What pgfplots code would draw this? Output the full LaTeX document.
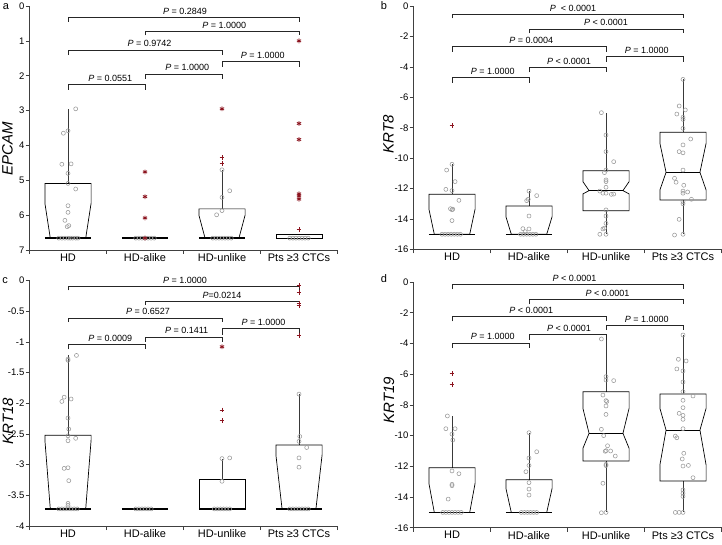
\documentclass[border=0pt]{standalone}
\usepackage{fontspec}
\setmainfont{Liberation Sans}
\usepackage{pgfplots}
\pgfplotsset{compat=1.18}
\definecolor{axc}{gray}{0.25}
\definecolor{ptc}{gray}{0.6}
\definecolor{outc}{rgb}{0.55,0.08,0.12}
\pgfplotsset{
 panel/.style={scale only axis, width=308pt, xmin=-0.5, xmax=3.5,
  axis x line*=bottom, axis y line*=left, clip=false,
  xtick={-0.5,0.5,1.5,2.5,3.5}, xticklabels={,,,,},
  extra x ticks={0,1,2,3}, extra x tick labels={HD,HD-alike,HD-unlike,Pts ≥3 CTCs},
  extra x tick style={major tick length=0pt},
  tick align=outside, major tick length=4pt,
  axis line style={axc, line width=0.7pt}, tick style={axc, line width=0.7pt},
  /pgf/number format/assume math mode=true,
  yticklabel style={font=\fontsize{9.5}{11}\selectfont, text=black, inner sep=1pt},
  xticklabel style={font=\fontsize{11}{13}\selectfont, text=black},
 },
 wh/.style={gray!45!black, line width=1pt},
 bx/.style={black, line width=0.7pt},
 bl/.style={black, line width=1.3pt},
 pts/.style={only marks, mark=o, mark size=2pt, ptc, line width=0.55pt},
 op/.style={only marks, mark=+, mark size=2.4pt, outc, line width=0.85pt},
 oa/.style={only marks, mark=asterisk, mark size=2.4pt, outc, line width=0.85pt},
 br/.style={black!85, line width=0.7pt},
}
\tikzset{ptxt/.style={anchor=base, yshift=3pt, font=\fontsize{9}{10}\selectfont, inner sep=0pt}}
\begin{document}
\begin{tikzpicture}
\useasboundingbox (0,0) rectangle (722pt,545pt);
% ---------------- panel a
\begin{axis}[panel, at={(29.5pt,295pt)}, anchor=south west, height=244pt, ymin=0, ymax=7, y dir=reverse, ytick={0,1,2,3,4,5,6,7}]
\addplot[wh] coordinates {(0,5.09)(0,2.95)};
\addplot[wh] coordinates {(2,5.82)(2,4.70)};
\addplot[bx] coordinates {(-0.3,5.09)(0.3,5.09)(0.3,5.66)(0.23,6.66)(-0.23,6.66)(-0.3,5.66)} -- cycle;
\addplot[bl] coordinates {(-0.3,6.66)(0.3,6.66)};
\addplot[bl] coordinates {(0.7,6.66)(1.3,6.66)};
\addplot[bx] coordinates {(1.7,5.82)(2.3,5.82)(2.3,6.0)(2.22,6.66)(1.78,6.66)(1.7,6.0)} -- cycle;
\addplot[bl] coordinates {(1.7,6.66)(2.3,6.66)};
\addplot[bx] coordinates {(2.7,6.56)(3.3,6.56)(3.3,6.67)(2.7,6.67)} -- cycle;
\addplot[pts] coordinates {(0.10,2.95)(0,3.58)(-0.06,3.65)(-0.08,4.54)(0.04,4.53)(0,4.80)(0,5.09)(0.10,5.25)(0,5.73)(0,5.92)(-0.04,6.15)(0.01,6.30)(-0.01,6.33)(-0.12,6.66)(-0.08,6.66)(-0.04,6.66)(0,6.66)(0.03,6.66)(0.06,6.66)(0.1,6.66)(0.13,6.66)
(0.88,6.66)(0.92,6.66)(0.96,6.66)(1.0,6.66)(1.04,6.66)(1.08,6.66)(1.12,6.66)
(2,4.70)(2.10,5.30)(2,5.49)(2,5.87)(1.93,5.99)(1.88,6.66)(1.92,6.66)(1.96,6.66)(2,6.66)(2.04,6.66)(2.08,6.66)(2.12,6.66)
(2.88,6.66)(2.92,6.66)(2.96,6.66)(3,6.66)(3.04,6.66)(3.08,6.66)(3.12,6.66)};
\addplot[oa] coordinates {(1,4.76)(1,5.47)(1,6.08)(1,6.66)(2,2.95)(3,1.0)(3,3.37)(3,3.83)(3,5.39)(3,5.45)(3,5.54)};
\addplot[op] coordinates {(2,4.35)(2,4.51)(3,6.41)};
\addplot[br] coordinates {(0,0.45)(0,0.325)(3,0.325)(3,0.45)};
\addplot[br] coordinates {(1,0.84)(1,0.72)(3,0.72)(3,0.84)};
\addplot[br] coordinates {(0,1.41)(0,1.26)(2,1.26)(2,1.41)};
\addplot[br] coordinates {(2,1.74)(2,1.6)(3,1.6)(3,1.74)};
\addplot[br] coordinates {(1,2.08)(1,1.95)(2,1.95)(2,2.08)};
\addplot[br] coordinates {(0,2.4)(0,2.24)(1,2.24)(1,2.4)};
\node[ptxt] at (axis cs:1.52,0.325) {\textit{P} = 0.2849};
\node[ptxt] at (axis cs:2.03,0.72) {\textit{P} = 1.0000};
\node[ptxt] at (axis cs:1.06,1.26) {\textit{P} = 0.9742};
\node[ptxt] at (axis cs:2.53,1.6) {\textit{P} = 1.0000};
\node[ptxt] at (axis cs:1.55,1.95) {\textit{P} = 1.0000};
\node[ptxt] at (axis cs:0.55,2.24) {\textit{P} = 0.0551};
\end{axis}
% ---------------- panel b
\begin{axis}[panel, at={(413.5pt,295.5pt)}, anchor=south west, height=243.5pt, ymin=-16, ymax=0, ytick={-16,-14,-12,-10,-8,-6,-4,-2,0}]
\addplot[wh] coordinates {(0,-12.37)(0,-10.40)};
\addplot[wh] coordinates {(1,-13.14)(1,-12.16)};
\addplot[wh] coordinates {(2,-10.82)(2,-7.0)};
\addplot[wh] coordinates {(2,-13.45)(2,-15)};
\addplot[wh] coordinates {(3,-8.3)(3,-4.82)};
\addplot[wh] coordinates {(3,-12.75)(3,-15)};
\addplot[bx] coordinates {(-0.3,-12.37)(0.3,-12.37)(0.3,-13.34)(0.23,-15)(-0.23,-15)(-0.3,-13.34)} -- cycle;
\addplot[bl] coordinates {(-0.3,-15)(0.3,-15)};
\addplot[bx] coordinates {(0.7,-13.14)(1.3,-13.14)(1.3,-13.84)(1.23,-15)(0.77,-15)(0.7,-13.84)} -- cycle;
\addplot[bl] coordinates {(0.7,-15)(1.3,-15)};
\addplot[bx] coordinates {(1.7,-10.82)(2.3,-10.82)(2.3,-11.54)(2.22,-12.13)(2.3,-12.35)(2.3,-13.45)(1.7,-13.45)(1.7,-12.35)(1.78,-12.13)(1.7,-11.54)} -- cycle;
\addplot[bx] coordinates {(1.78,-12.13)(2.22,-12.13)};
\addplot[bx] coordinates {(2.7,-8.3)(3.3,-8.3)(3.3,-9.02)(3.22,-10.93)(3.3,-12.09)(3.3,-12.75)(2.7,-12.75)(2.7,-12.09)(2.78,-10.93)(2.7,-9.02)} -- cycle;
\addplot[bx] coordinates {(2.78,-10.93)(3.22,-10.93)};
\addplot[pts] coordinates {(0,-10.40)(-0.07,-10.78)(0.04,-11.54)(-0.08,-12.05)(0,-12.13)(0.09,-12.77)(-0.02,-13.32)(0.01,-13.35)(0,-13.39)(0,-14.1)(-0.13,-15)(-0.09,-15)(-0.05,-15)(-0.01,-15)(0.03,-15)(0.07,-15)(0.11,-15)
(1,-12.16)(1.1,-12.46)(0.97,-12.79)(0.99,-12.7)(1,-13.8)(0.92,-14.63)(1,-14.65)(0.95,-14.83)(0.89,-15)(0.93,-15)(0.97,-15)(1.01,-15)(1.05,-15)(1.09,-15)
(1.94,-7.01)(2,-8.48)(2,-9.57)(2.1,-10.23)(2,-10.78)(1.98,-10.95)(2,-11.43)(2,-11.54)(2,-11.91)(1.92,-12.16)(1.96,-12.3)(2,-12.3)(2.07,-12.38)(2.1,-12.36)(2,-13.4)(2,-13.8)(2,-14.28)(1.98,-14.6)(1.96,-14.65)(1.92,-15.0)(2,-15.0)
(3,-4.82)(2.95,-6.57)(3.03,-6.83)(2.92,-7.1)(3,-7.31)(3,-7.45)(3,-8.04)(3.1,-8.74)(3,-9.13)(2.95,-9.57)(3,-9.65)(3,-10.78)(2.89,-11.32)(2.91,-11.58)(3.01,-11.78)(3,-12.16)(3.06,-12.22)(3,-12.3)(3.11,-12.7)(3,-12.86)(3,-13.0)(2.95,-14.02)(2.89,-15.05)(3,-15.0)};
\addplot[op] coordinates {(0,-7.86)};
\addplot[br] coordinates {(0,-0.81)(0,-0.53)(3,-0.53)(3,-0.81)};
\addplot[br] coordinates {(1,-1.8)(1,-1.51)(3,-1.51)(3,-1.8)};
\addplot[br] coordinates {(0,-3.0)(0,-2.67)(2,-2.67)(2,-3.0)};
\addplot[br] coordinates {(2,-3.66)(2,-3.33)(3,-3.33)(3,-3.66)};
\addplot[br] coordinates {(1,-4.36)(1,-4.03)(2,-4.03)(2,-4.36)};
\addplot[br] coordinates {(0,-5.04)(0,-4.71)(1,-4.71)(1,-5.04)};
\node[ptxt] at (axis cs:1.57,-0.53) {\textit{P}\ \ {<} 0.0001};
\node[ptxt] at (axis cs:2.0,-1.51) {\textit{P} {<} 0.0001};
\node[ptxt] at (axis cs:1.03,-2.67) {\textit{P} = 0.0004};
\node[ptxt] at (axis cs:2.53,-3.33) {\textit{P} = 1.0000};
\node[ptxt] at (axis cs:1.52,-4.03) {\textit{P} {<} 0.0001};
\node[ptxt] at (axis cs:0.53,-4.71) {\textit{P} = 1.0000};
\end{axis}
% ---------------- panel c
\begin{axis}[panel, at={(29.5pt,18.9pt)}, anchor=south west, height=245.6pt, ymin=-4, ymax=0, ytick={-4,-3.5,-3,-2.5,-2,-1.5,-1,-0.5,0}]
\addplot[wh] coordinates {(0,-2.52)(0,-1.22)};
\addplot[wh] coordinates {(2,-3.24)(2,-2.9)};
\addplot[wh] coordinates {(3,-2.68)(3,-1.85)};
\addplot[bx] coordinates {(-0.3,-2.52)(0.3,-2.52)(0.3,-2.6)(0.23,-3.72)(-0.23,-3.72)(-0.3,-2.6)} -- cycle;
\addplot[bl] coordinates {(-0.3,-3.72)(0.3,-3.72)};
\addplot[bl] coordinates {(0.7,-3.72)(1.3,-3.72)};
\addplot[bx] coordinates {(1.7,-3.24)(2.3,-3.24)(2.3,-3.72)(1.7,-3.72)} -- cycle;
\addplot[bl] coordinates {(1.7,-3.72)(2.3,-3.72)};
\addplot[bx] coordinates {(2.7,-2.68)(3.3,-2.68)(3.3,-2.84)(3.22,-3.72)(2.78,-3.72)(2.7,-2.84)} -- cycle;
\addplot[bl] coordinates {(2.7,-3.72)(3.3,-3.72)};
\addplot[pts] coordinates {(0.11,-1.22)(0,-1.28)(0,-1.30)(-0.05,-1.90)(-0.08,-1.97)(0.04,-1.93)(0,-2.24)(0.01,-2.42)(0,-2.53)(0.10,-2.57)(0,-2.61)(-0.05,-3.06)(0,-3.05)(0.01,-3.26)(0,-3.63)(0,-3.66)(-0.12,-3.72)(-0.08,-3.72)(-0.04,-3.72)(0,-3.72)(0.04,-3.72)(0.08,-3.72)(0.12,-3.72)
(0.88,-3.72)(0.92,-3.72)(0.96,-3.72)(1.0,-3.72)(1.04,-3.72)(1.08,-3.72)
(2,-2.9)(2.1,-2.89)(2,-3.27)(1.9,-3.72)(1.94,-3.72)(1.98,-3.72)(2.02,-3.72)(2.06,-3.72)(2.1,-3.72)
(3,-1.85)(3.01,-2.54)(3,-2.62)(3.1,-2.72)(3,-2.89)(3,-3.04)(2.88,-3.72)(2.92,-3.72)(2.96,-3.72)(3,-3.72)(3.04,-3.72)(3.08,-3.72)(3.12,-3.72)};
\addplot[oa] coordinates {(2,-1.08)};
\addplot[op] coordinates {(2,-2.11)(2,-2.28)(3,-0.08)(3,-0.19)(3,-0.38)(3,-0.41)(3,-0.89)};
\addplot[br] coordinates {(0,-0.16)(0,-0.095)(3,-0.095)(3,-0.16)};
\addplot[br] coordinates {(1,-0.40)(1,-0.334)(3,-0.334)(3,-0.40)};
\addplot[br] coordinates {(0,-0.68)(0,-0.61)(2,-0.61)(2,-0.68)};
\addplot[br] coordinates {(2,-0.89)(2,-0.785)(3,-0.785)(3,-0.89)};
\addplot[br] coordinates {(1,-1.0)(1,-0.92)(2,-0.92)(2,-1.0)};
\addplot[br] coordinates {(0,-1.12)(0,-1.04)(1,-1.04)(1,-1.12)};
\node[ptxt] at (axis cs:1.52,-0.095) {\textit{P} = 1.0000};
\node[ptxt] at (axis cs:2.0,-0.334) {\textit{P}=0.0214};
\node[ptxt] at (axis cs:1.04,-0.61) {\textit{P} = 0.6527};
\node[ptxt] at (axis cs:2.54,-0.785) {\textit{P} = 1.0000};
\node[ptxt] at (axis cs:1.54,-0.92) {\textit{P} = 0.1411};
\node[ptxt] at (axis cs:0.55,-1.04) {\textit{P} = 0.0009};
\end{axis}
% ---------------- panel d
\begin{axis}[panel, at={(413.5pt,17.2pt)}, anchor=south west, height=245.8pt, ymin=-16, ymax=0, ytick={-16,-14,-12,-10,-8,-6,-4,-2,0}]
\addplot[wh] coordinates {(0,-12.09)(0,-8.72)};
\addplot[wh] coordinates {(1,-12.87)(1,-9.81)};
\addplot[wh] coordinates {(2,-7.14)(2,-3.71)};
\addplot[wh] coordinates {(2,-11.65)(2,-15)};
\addplot[wh] coordinates {(3,-7.29)(3,-3.45)};
\addplot[wh] coordinates {(3,-12.96)(3,-15)};
\addplot[bx] coordinates {(-0.3,-12.09)(0.3,-12.09)(0.3,-13.1)(0.23,-15)(-0.23,-15)(-0.3,-13.1)} -- cycle;
\addplot[bl] coordinates {(-0.3,-15)(0.3,-15)};
\addplot[bx] coordinates {(0.7,-12.87)(1.3,-12.87)(1.3,-13.43)(1.23,-15)(0.77,-15)(0.7,-13.43)} -- cycle;
\addplot[bl] coordinates {(0.7,-15)(1.3,-15)};
\addplot[bx] coordinates {(1.7,-7.14)(2.3,-7.14)(2.3,-8.22)(2.22,-9.85)(2.3,-10.83)(2.3,-11.65)(1.7,-11.65)(1.7,-10.83)(1.78,-9.85)(1.7,-8.22)} -- cycle;
\addplot[bx] coordinates {(1.78,-9.85)(2.22,-9.85)};
\addplot[bx] coordinates {(2.7,-7.29)(3.3,-7.29)(3.3,-8.22)(3.22,-9.64)(3.3,-11.91)(3.3,-12.96)(2.7,-12.96)(2.7,-11.91)(2.78,-9.64)(2.7,-8.22)} -- cycle;
\addplot[bx] coordinates {(2.78,-9.64)(3.22,-9.64)};
\addplot[pts] coordinates {(-0.06,-8.72)(-0.08,-9.55)(0.04,-9.55)(0,-9.9)(0.01,-10.29)(0,-12.3)(0.09,-12.48)(0,-13.17)(0,-13.26)(-0.05,-14.13)(-0.12,-15)(-0.08,-15)(-0.04,-15)(0,-15)(0.04,-15)(0.08,-15)(0.12,-15)
(1,-9.81)(1.1,-11.05)(1,-11.46)(1,-11.94)(0.96,-12.35)(1,-13.06)(1,-13.48)(1,-13.87)(0.9,-15)(0.94,-15)(0.98,-15)(1.02,-15)(1.06,-15)(1.1,-15)
(1.94,-3.71)(2,-6.16)(2,-6.38)(2.1,-6.42)(1.96,-7.36)(2,-7.72)(2.01,-7.78)(2,-8.07)(2,-8.62)(1.94,-9.59)(1.97,-10.0)(2.02,-10.66)(2,-10.98)(1.99,-11.02)(2.06,-11.0)(2.12,-11.33)(2,-11.87)(2,-11.95)(1.96,-13.1)(1.94,-15.02)(2,-15)
(3,-3.45)(2.94,-5.03)(3.04,-5.14)(2.92,-5.66)(3,-5.79)(3,-6.51)(3,-7.14)(3.13,-7.42)(3,-7.70)(3,-8.18)(2.95,-8.55)(3,-8.68)(3,-8.94)(3,-9.55)(2.9,-10.03)(2.92,-10.14)(3.01,-11.15)(2.99,-11.52)(3,-11.98)(3.07,-11.94)(3.13,-12.74)(3,-13.54)(3,-13.75)(3,-13.96)(2.9,-15)(2.95,-15)(3,-15)};
\addplot[op] coordinates {(0,-5.95)(0,-6.66)};
\addplot[br] coordinates {(0,-0.48)(0,-0.17)(3,-0.17)(3,-0.48)};
\addplot[br] coordinates {(1,-1.45)(1,-1.13)(3,-1.13)(3,-1.45)};
\addplot[br] coordinates {(0,-2.56)(0,-2.24)(2,-2.24)(2,-2.56)};
\addplot[br] coordinates {(2,-3.14)(2,-2.82)(3,-2.82)(3,-3.14)};
\addplot[br] coordinates {(1,-3.76)(1,-3.43)(2,-3.43)(2,-3.76)};
\addplot[br] coordinates {(0,-4.3)(0,-3.97)(1,-3.97)(1,-4.3)};
\node[ptxt] at (axis cs:1.59,-0.17) {\textit{P} {<} 0.0001};
\node[ptxt] at (axis cs:2.02,-1.13) {\textit{P} {<} 0.0001};
\node[ptxt] at (axis cs:1.03,-2.24) {\textit{P} {<} 0.0001};
\node[ptxt] at (axis cs:2.53,-2.82) {\textit{P} = 1.0000};
\node[ptxt] at (axis cs:1.52,-3.43) {\textit{P} {<} 0.0001};
\node[ptxt] at (axis cs:0.53,-3.97) {\textit{P} = 1.0000};
\end{axis}
% labels
\node[rotate=90, font=\fontsize{15}{17}\selectfont\itshape] at (7.5pt,396pt) {EPCAM};
\node[rotate=90, font=\fontsize{15}{17}\selectfont\itshape] at (388.5pt,411pt) {KRT8};
\node[rotate=90, font=\fontsize{15}{17}\selectfont\itshape] at (8pt,124pt) {KRT18};
\node[rotate=90, font=\fontsize{15}{17}\selectfont\itshape] at (389pt,145pt) {KRT19};
\node[font=\fontsize{11}{13}\selectfont] at (6pt,538pt) {a};
\node[font=\fontsize{11}{13}\selectfont] at (384pt,539pt) {b};
\node[font=\fontsize{11}{13}\selectfont] at (5pt,264pt) {c};
\node[font=\fontsize{11}{13}\selectfont] at (384pt,266pt) {d};
\end{tikzpicture}
\end{document}
